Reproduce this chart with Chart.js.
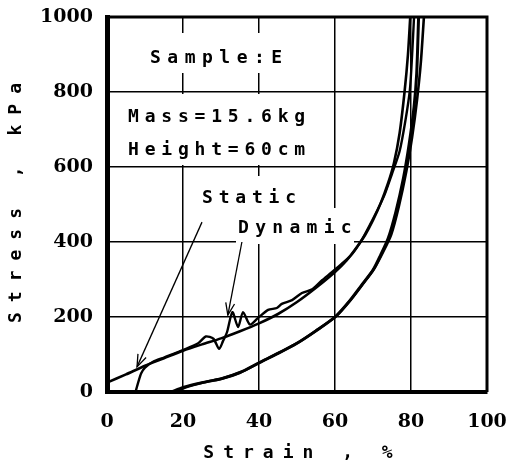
<!DOCTYPE html>
<html>
<head>
<meta charset="utf-8">
<script src="https://cdn.jsdelivr.net/npm/chart.js@4"></script>
<style>
  html,body{margin:0;padding:0;background:#fff;}
  #wrap{width:507px;height:471px;position:relative;}
</style>
</head>
<body>
<div id="wrap"><canvas id="c"></canvas></div>
<script>
/* ─── DATA ─────────────────────────────── */
const STRAIN_TICKS = [0,20,40,60,80,100];
const STRESS_TICKS = [0,200,400,600,800,1000];

// static loading curve (smooth, upper)
const staticStrain = [0,5,10,15,20,25,30,35,40,45,50,55,60,63,66,68,70,72,74,75.5,77,78.3,79.2,79.8];
const staticStress = [25,47,70,90,110,127,143,162,183,208,240,278,320,350,390,420,458,503,558,610,690,800,900,1000];

// dynamic loading curve (wiggly)
const dynStrain = [7.5,8.2,9,10,12,15,20,24,26,28,29.5,30.5,31.6,33,34.5,35.8,37.6,39.7,42.4,44.7,46,48.7,51.3,54,56.6,59,61.8,64.5,67,69.5,71,73,75,77,78.5,79.7,80.3,80.8];
const dynStress  = [0,25,50,65,80,92,112,130,148,142,115,135,160,213,173,213,180,197,219,224,235,245,264,274,298,318,342,368,405,452,482,525,582,642,722,805,900,1000];

// lower curves
const lowAStrain = [17,20,25,30,35,40,45,50,55,60,64,67,70,72,74,76,78,79.5,80.8,81.5,82];
const lowAStress = [0,12,25,35,52,78,103,130,163,200,245,285,325,365,410,480,570,660,760,850,1000];
const lowBStrain = [17.8,20.6,25.6,30.6,35.5,40.5,45.5,50.5,55.5,60.5,64.5,67.5,70.5,72.6,74.8,76.8,78.8,80.3,81.6,82.6,83.4];
const lowBStress = [0,12,26,37,54,80,106,133,167,204,250,290,332,372,420,495,590,680,780,880,1000];

const pts = (xs,ys)=>xs.map((x,i)=>({x, y:ys[i]}));

/* ─── DECORATION PLUGIN ─────────────────── */
const deco = {
  id:'deco',
  beforeDatasetsDraw(chart){
    const ctx = chart.ctx, xs = chart.scales.x, ys = chart.scales.y;
    ctx.save();
    // white label boxes over the grid
    ctx.fillStyle = '#fff';
    ctx.fillRect(140,33,156,40);
    ctx.fillRect(110,94,214,71);
    ctx.fillRect(196,176,104,33);
    ctx.fillRect(236,208,118,36);

    ctx.fillStyle = '#000';
    ctx.textBaseline = 'alphabetic';
    ctx.textAlign = 'left';
    ctx.font = 'bold 18px "DejaVu Sans Mono"';
    ctx.letterSpacing = '6.5px';
    ctx.fillText('Sample:E',150,63);
    ctx.letterSpacing = '5.8px';
    ctx.fillText('Mass=15.6kg',128,122);
    ctx.fillText('Height=60cm',128,155);
    ctx.letterSpacing = '5.8px';
    ctx.fillText('Static',202,203);
    ctx.letterSpacing = '6.3px';
    ctx.fillText('Dynamic',238,233);

    // arrows
    ctx.strokeStyle = '#000';
    ctx.lineWidth = 1.3;
    const arrow = (x0,y0,x1,y1)=>{
      const ax = xs.getPixelForValue(x0), ay = ys.getPixelForValue(y0);
      const bx = xs.getPixelForValue(x1), by = ys.getPixelForValue(y1);
      ctx.beginPath(); ctx.moveTo(ax,ay); ctx.lineTo(bx,by); ctx.stroke();
      const a = Math.atan2(by-ay,bx-ax), L = 13, w = 0.35;
      ctx.beginPath();
      ctx.moveTo(bx-L*Math.cos(a-w), by-L*Math.sin(a-w));
      ctx.lineTo(bx,by);
      ctx.lineTo(bx-L*Math.cos(a+w), by-L*Math.sin(a+w));
      ctx.stroke();
    };
    arrow(25,453,7.9,67);
    arrow(35.5,400,31.8,205);
    ctx.restore();
  },
  afterDraw(chart){
    const ctx = chart.ctx, a = chart.chartArea;
    ctx.save();
    ctx.strokeStyle = '#000';
    ctx.lineWidth = 3;
    ctx.beginPath();
    ctx.moveTo(a.left, a.top); ctx.lineTo(a.right, a.top); ctx.lineTo(a.right, a.bottom);
    ctx.stroke();

    // axis titles
    ctx.fillStyle = '#000';
    ctx.font = 'bold 18px "DejaVu Sans Mono"';
    ctx.textBaseline = 'middle';
    ctx.textAlign = 'left';
    ctx.letterSpacing = '9px';
    let t = 'Strain , %';
    let w = ctx.measureText(t).width - 9;
    ctx.fillText(t, 298 - w/2, 453);
    ctx.letterSpacing = '10px';
    t = 'Stress , kPa';
    w = ctx.measureText(t).width - 10;
    ctx.translate(16, 203);
    ctx.rotate(-Math.PI/2);
    ctx.fillText(t, -w/2, 0);
    ctx.restore();
  }
};

/* ─── CHART ─────────────────────────────── */
const line = (data,width)=>({
  data, showLine:true, borderColor:'#000', backgroundColor:'#000',
  borderWidth:width, pointRadius:0, tension:0.25, fill:false
});

new Chart(document.getElementById('c').getContext('2d'),{
  type:'scatter',
  data:{ datasets:[
    line(pts(staticStrain,staticStress),2.6),
    line(pts(dynStrain,dynStress),2.4),
    line(pts(lowAStrain,lowAStress),3),
    line(pts(lowBStrain,lowBStress),2.6)
  ]},
  options:{
    responsive:true, maintainAspectRatio:false, animation:false,
    layout:{ padding:{left:0,right:20,top:17,bottom:0} },
    plugins:{ legend:{display:false}, tooltip:{enabled:false} },
    scales:{
      x:{
        type:'linear', min:0, max:100,
        afterFit: s=>{ s.height = 79; s.paddingLeft = 0; s.paddingRight = 0; },
        afterBuildTicks: s=>{ s.ticks = STRAIN_TICKS.map(v=>({value:v})); },
        grid:{ color:'#000', lineWidth:1.5, drawTicks:false },
        border:{ color:'#000', width:4 },
        ticks:{ color:'#000', padding:19, maxRotation:0, callback:v=>String(v),
                font:{family:'"DejaVu Serif"', size:19, weight:'bold'} }
      },
      y:{
        type:'linear', min:0, max:1000,
        afterFit: s=>{ s.width = 107; s.paddingTop = 0; s.paddingBottom = 0; },
        afterBuildTicks: s=>{ s.ticks = STRESS_TICKS.map(v=>({value:v})); },
        grid:{ color:'#000', lineWidth:1.5, drawTicks:false },
        border:{ color:'#000', width:5 },
        ticks:{ color:'#000', padding:14, callback:v=>String(v),
                font:{family:'"DejaVu Serif"', size:19, weight:'bold'} }
      }
    }
  },
  plugins:[deco]
});
</script>
</body>
</html>
